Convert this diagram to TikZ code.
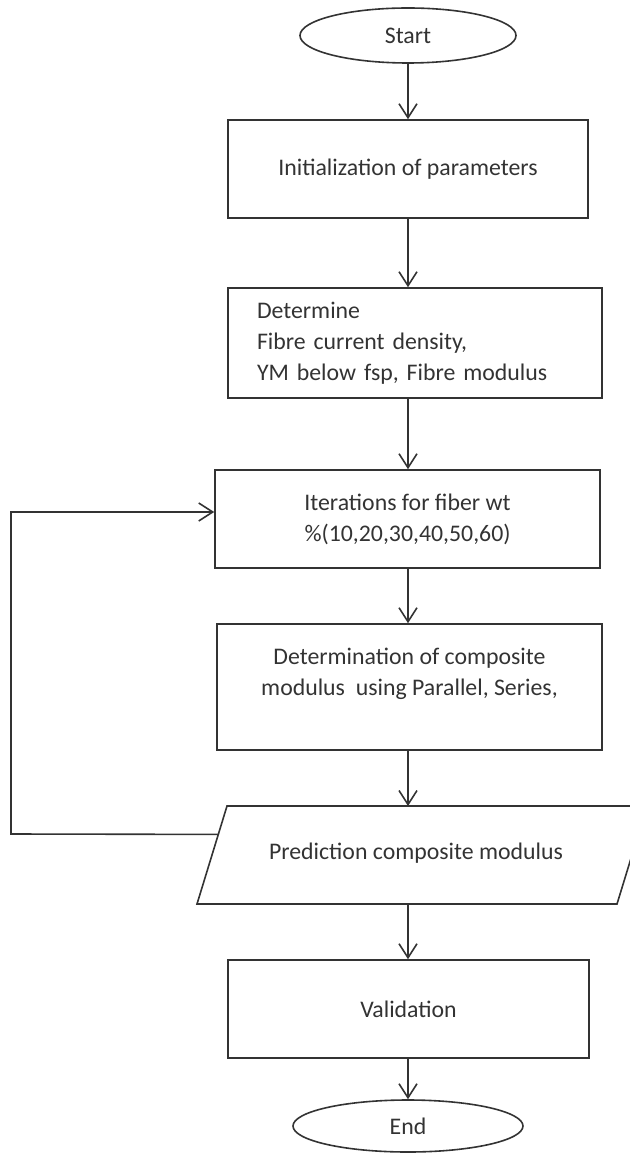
\documentclass[tikz,border=0pt]{standalone}
\usepackage{fontspec}
\setmainfont{Carlito}
\usetikzlibrary{calc,arrows.meta}
\usetikzlibrary{shapes.geometric}

\begin{document}
\begin{tikzpicture}[x=0.5pt, y=-0.5pt, line width=0.8pt, color=black!80,
  font=\fontsize{11.9}{15.5}\selectfont,
  box/.style={draw, rectangle, inner sep=0pt},
  term/.style={draw, ellipse, inner sep=0pt},
  arr/.style={-{Straight Barb[length=7pt, width=9pt]}}]
\useasboundingbox (0,0) rectangle (630,1154);
\clip (0,0) rectangle (630,1154);
\node[term, minimum width=108pt, minimum height=27.5pt](start) at (408,35.5){Start};
\node[box, minimum width=180pt, minimum height=49pt](init) at (408,169){Initialization of parameters};
\node[box, minimum width=187pt, minimum height=55pt, text width=158pt, align=left](det) at (415,343){Determine\\Fibre current density,\\YM below fsp, Fibre modulus};
\node[box, minimum width=192.5pt, minimum height=49pt, align=center](iter) at (407.5,519){Iterations for fiber wt\\\%(10,20,30,40,50,60)};
\node[box, minimum width=192.5pt, minimum height=63pt, align=center](comp) at (409.5,687){Determination of composite\\modulus\ \ using Parallel, Series,\\~};
% parallelogram, runs off the right edge
\coordinate (ptl) at (227,806);
\coordinate (ptr) at (647,806);
\coordinate (pbr) at (617,904);
\coordinate (pbl) at (197,904);
\draw (ptl) -- (ptr) -- (pbr) -- (pbl) -- cycle;
\node(pred) at (416,853){Prediction composite modulus};
\node[box, minimum width=180.5pt, minimum height=49pt](val) at (408.5,1009){Validation};
\node[term, minimum width=115pt, minimum height=26pt](end) at (408,1126){End};
\coordinate (back) at (11,834);

\foreach \a/\b in {start/init, init/det, det/iter, iter/comp, val/end}
  \draw[arr] (start |- \a.south) -- (start |- \b.north);
\draw[arr] (start |- comp.south) -- (start |- ptl);
\draw[arr] (start |- pbl) -- (start |- val.north);
% loop back to the iterations
\draw[arr] ($(ptl)!0.29!(pbl)$) -- (back) |- ([yshift=3.5pt]iter.west);
\end{tikzpicture}
\end{document}
